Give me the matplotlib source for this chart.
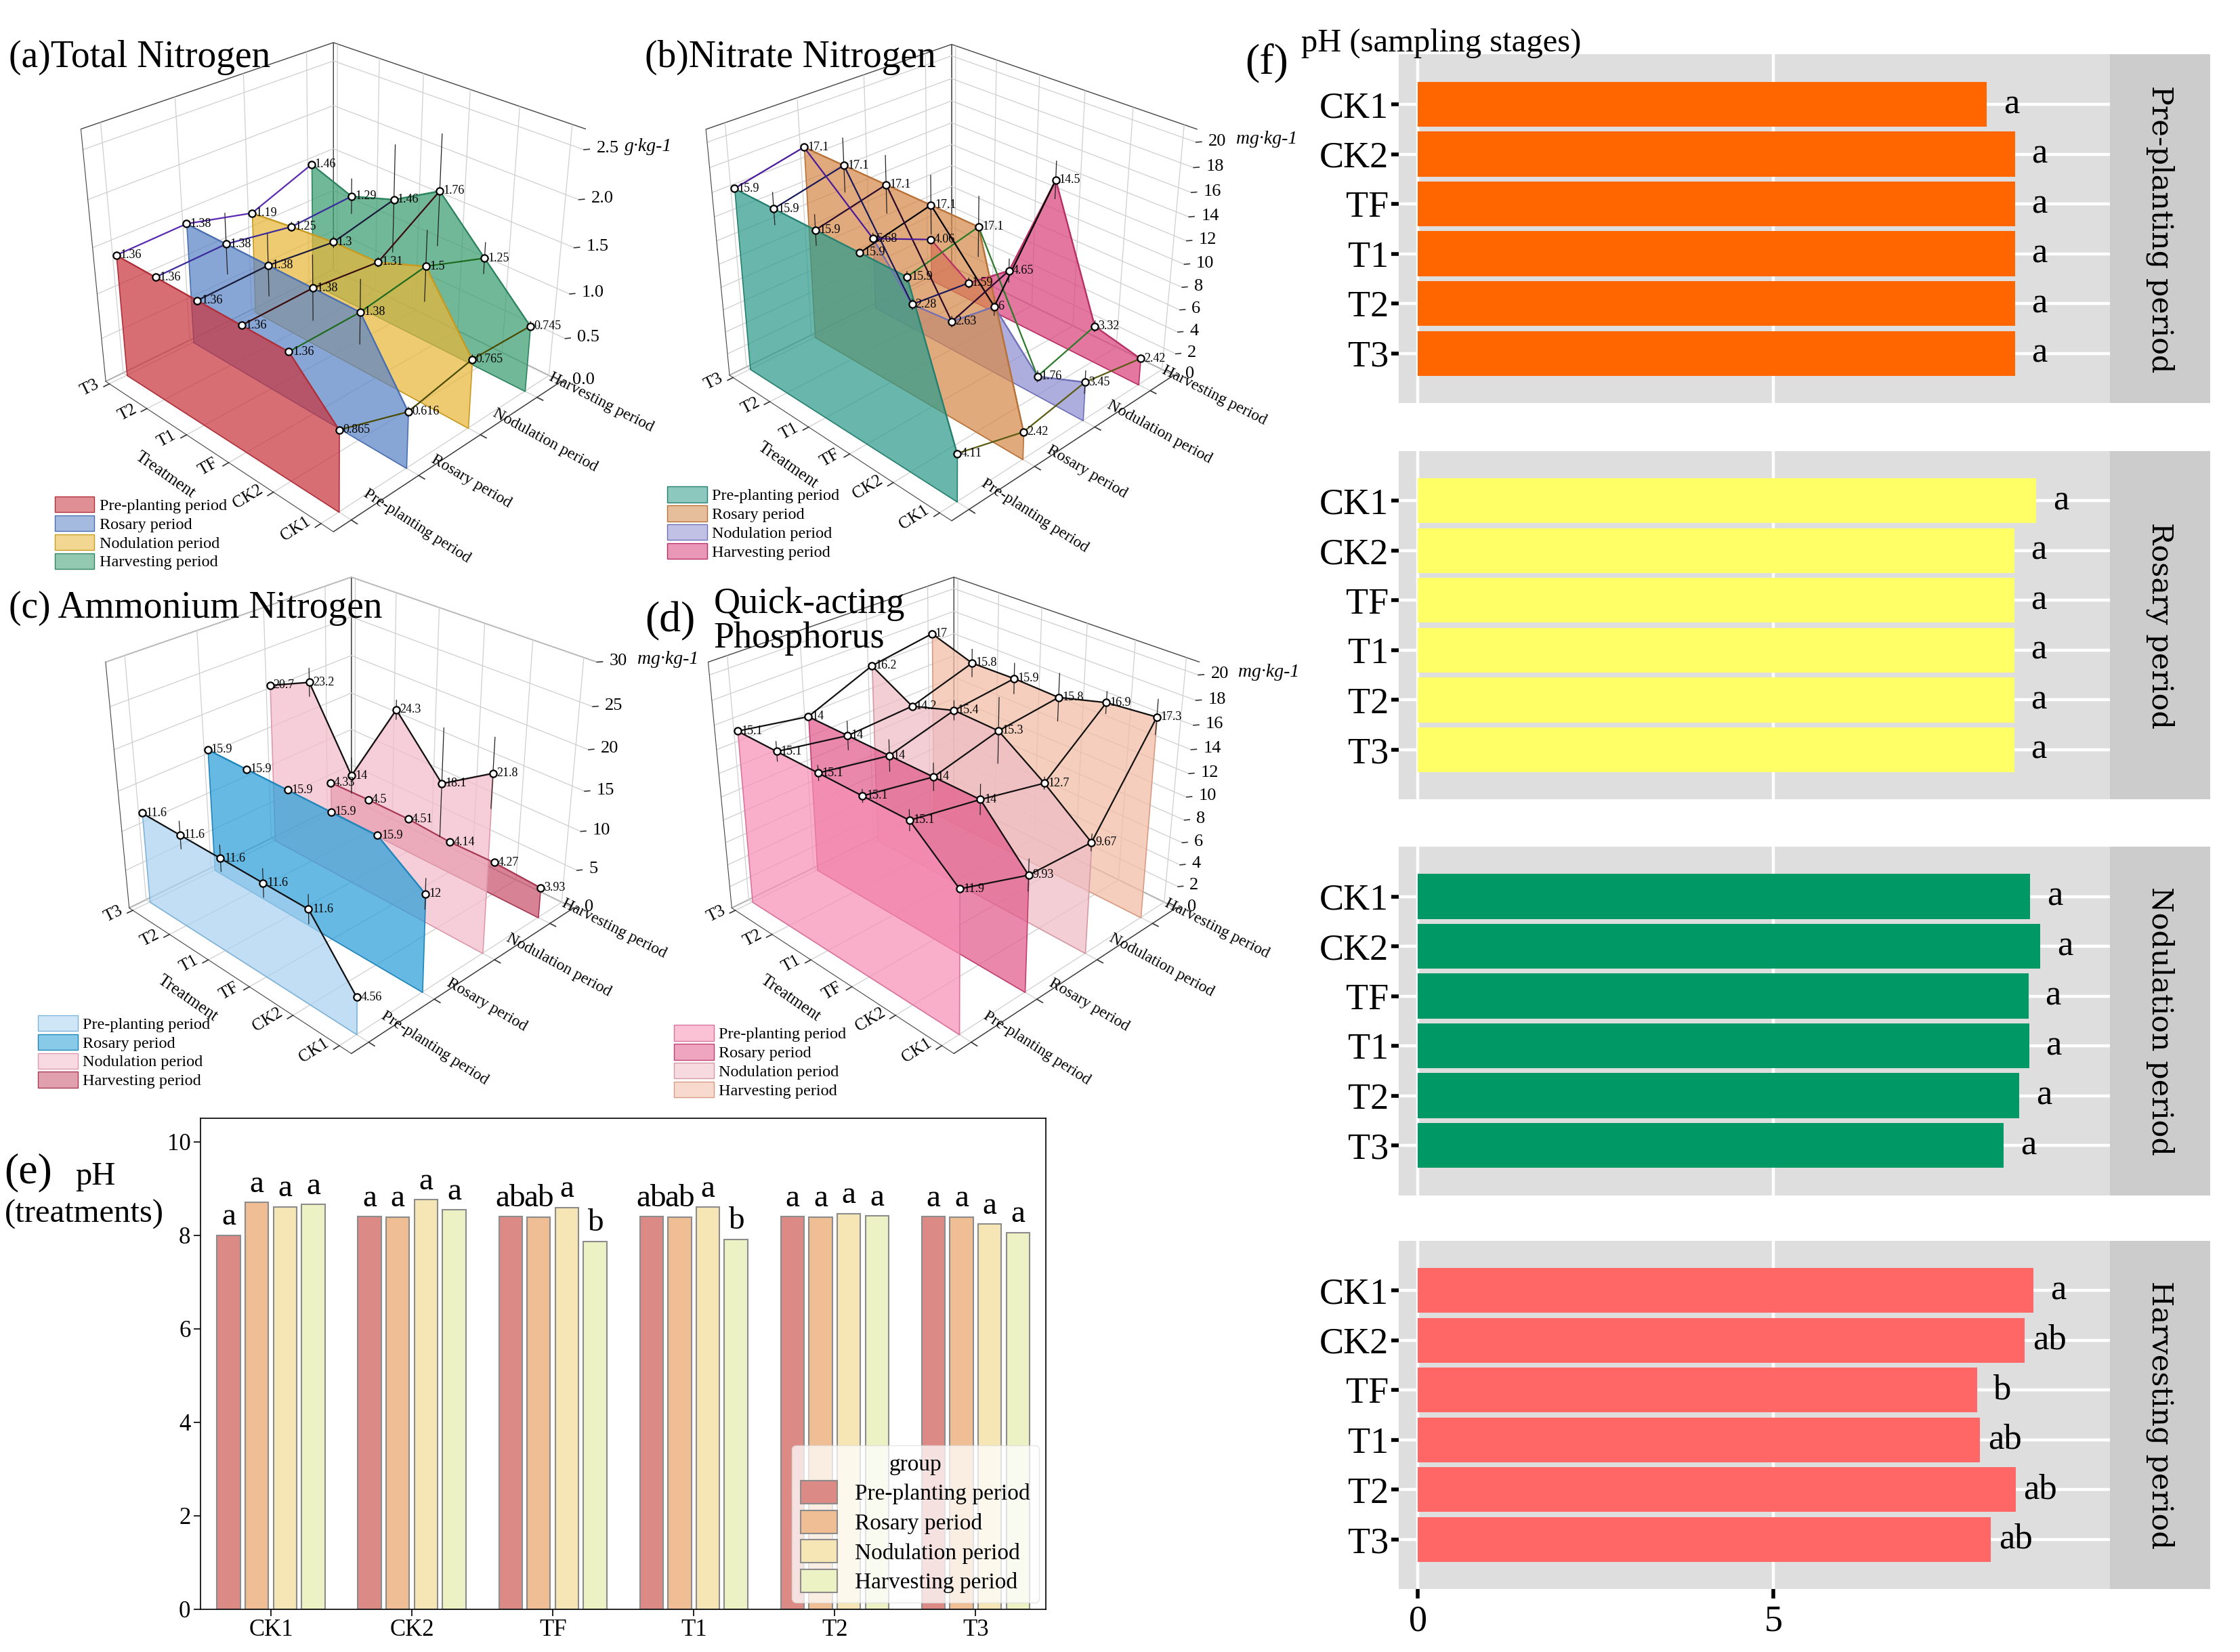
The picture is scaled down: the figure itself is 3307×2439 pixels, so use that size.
import numpy as np
import matplotlib.pyplot as plt
from matplotlib.patches import Patch
from matplotlib.colors import to_rgba
from mpl_toolkits.mplot3d.art3d import Poly3DCollection

plt.rcParams['font.family'] = ['Liberation Serif', 'DejaVu Serif']
plt.rcParams['grid.color'] = '#cfcfcf'
plt.rcParams['grid.linewidth'] = 0.9

treatments = ['CK1', 'CK2', 'TF', 'T1', 'T2', 'T3']
periods = ['Pre-planting period', 'Rosary period', 'Nodulation period', 'Harvesting period']

# 3D panels, rows = periods, columns = treatments (CK1 .. T3)
tn_values = [[0.865, 1.36, 1.36, 1.36, 1.36, 1.36],
             [0.616, 1.38, 1.38, 1.38, 1.38, 1.38],
             [0.765, 1.5, 1.31, 1.3, 1.25, 1.19],
             [0.745, 1.25, 1.76, 1.46, 1.29, 1.46]]
tn_err = [[0, 0, 0, 0, 0, 0],
          [0.05, 0.33, 0.34, 0.33, 0.33, 0],
          [0.05, 0.37, 0.05, 0.06, 0.05, 0],
          [0.05, 0.17, 0.6, 0.6, 0.2, 0]]
no3_values = [[4.11, 15.9, 15.9, 15.9, 15.9, 15.9],
              [2.42, 17.1, 17.1, 17.1, 17.1, 17.1],
              [3.45, 1.76, 6, 2.63, 2.28, 6.68],
              [2.42, 3.32, 14.5, 4.65, 1.59, 4.06]]
no3_err = [[0, 0.4, 0, 1.2, 1.3, 0],
           [0, 2.3, 2.3, 2.3, 2.2, 0],
           [1.0, 0.5, 0.8, 0.5, 0.5, 0.5],
           [0.3, 0.5, 1.6, 1.1, 0.5, 0.3]]
nh4_values = [[4.56, 11.6, 11.6, 11.6, 11.6, 11.6],
              [12, 15.9, 15.9, 15.9, 15.9, 15.9],
              [21.8, 18.1, 24.3, 14, 23.2, 20.7],
              [3.93, 4.27, 4.14, 4.51, 4.5, 4.33]]
nh4_err = [[0, 1.7, 1.7, 1.6, 1.7, 0],
           [1.8, 0, 0, 0, 0, 0],
           [4.0, 6.4, 1.1, 2.2, 1.7, 0],
           [0, 0, 0, 0, 0, 0]]
ap_values = [[11.9, 15.1, 15.1, 15.1, 15.1, 15.1],
             [9.93, 14, 14, 14, 14, 14],
             [9.67, 12.7, 15.3, 15.4, 14.2, 16.2],
             [17.3, 16.9, 15.8, 15.9, 15.8, 17]]
ap_err = [[0, 0.8, 0.5, 0.6, 0.8, 0],
          [1.3, 1.2, 1.1, 1.3, 1.2, 0],
          [0.7, 0.5, 2.7, 0.8, 0, 0],
          [1.4, 0.9, 2.0, 1.3, 1.2, 0]]

# pH by treatment (e) and by stage (f)
ph_pre = [8.0, 8.40, 8.40, 8.40, 8.40, 8.40]
ph_ros = [8.70, 8.39, 8.39, 8.39, 8.39, 8.39]
ph_nod = [8.61, 8.76, 8.59, 8.60, 8.46, 8.24]
ph_harv = [8.66, 8.54, 7.87, 7.91, 8.41, 8.06]
letters_pre = ['a', 'a', 'ab', 'ab', 'a', 'a']
letters_ros = ['a', 'a', 'ab', 'ab', 'a', 'a']
letters_nod = ['a', 'a', 'a', 'a', 'a', 'a']
letters_harv = ['a', 'a', 'b', 'b', 'a', 'a']
stage_letters_harv = ['a', 'ab', 'b', 'ab', 'ab', 'ab']

fig = plt.figure(figsize=(33.07, 24.39), dpi=100)


def wall_panel(rect, zoom, vals, errs, face, edge, top_col, cross_col, zmax, zticks, zfmt, unit):
    ax = fig.add_axes(rect, projection='3d')
    ax.set_facecolor((1, 1, 1, 0))
    ax.computed_zorder = False
    x0, x1 = -0.25, 3.45
    y0, y1 = -0.25, 5.1
    ax.set_xlim(x0, x1)
    ax.set_ylim(y0, y1)
    ax.set_zlim(0, zmax)
    ax.set_box_aspect((1, 1, 0.85), zoom=zoom)
    ax.view_init(elev=29, azim=-135)
    ax.set_proj_type('persp', focal_length=0.45)
    ax.set_xticks(range(4))
    ax.set_yticks(range(6))
    ax.set_zticks(zticks)
    ax.set_xticklabels([])
    ax.set_yticklabels([])
    ax.set_zticklabels([])
    for a in (ax.xaxis, ax.yaxis, ax.zaxis):
        a.set_pane_color((1, 1, 1, 1))
        a.pane.set_edgecolor('#444444')
        a.line.set_color('#444444')
        a._axinfo['tick']['inward_factor'] = 0
        a._axinfo['tick']['outward_factor'] = 0

    for p in reversed(range(4)):
        v = vals[p]
        verts = [(p, 0, 0)] + [(p, t, v[t]) for t in range(6)] + [(p, 5, 0)]
        poly = Poly3DCollection([verts], facecolors=[to_rgba(face[p], 0.72)],
                                edgecolors=[edge[p]], linewidths=1.2)
        poly.set_zorder(1 + (3 - p))
        ax.add_collection3d(poly)
        ax.plot([p] * 6, range(6), v, color=top_col[p], lw=1.6, zorder=6)
        for t in range(6):
            if errs[p][t] > 0:
                ax.plot([p, p], [t, t], [v[t] - errs[p][t], v[t] + errs[p][t]],
                        color='#222222', lw=0.9, zorder=6)
    if cross_col is not None:
        for t in range(6):
            ax.plot(range(4), [t] * 4, [vals[p][t] for p in range(4)],
                    color=cross_col[t], lw=1.6, zorder=6)
    for p in range(4):
        ax.scatter([p] * 6, range(6), vals[p], s=55, c='white', edgecolors='black',
                   linewidths=1.6, depthshade=False, zorder=7)
        for t in range(6):
            ax.text(p + 0.03, t - 0.04, vals[p][t], f'{vals[p][t]:g}', fontsize=13,
                    va='center', ha='left', zorder=8)

    # treatment ticks and labels along the front-left edge
    for t, name in enumerate(treatments):
        ax.plot([x0, x0 - 0.08], [t, t], [0, 0], color='#333333', lw=1.2, zorder=8)
        ax.text(x0 - 0.11, t, 0, name, zdir='x', ha='right', va='center', fontsize=18, zorder=8)
    ax.text(x0 - 0.6, 2.45, 0, 'Treatment', zdir=(0, -1, 0), ha='center', va='center',
            fontsize=18, zorder=8)
    # period ticks and labels along the front-right edge
    for p, name in enumerate(periods):
        ax.plot([p, p], [y0, y0 - 0.12], [0, 0], color='#333333', lw=1.2, zorder=8)
        ax.text(p, y0 - 0.2, 0, name, zdir=(0, -1, 0), ha='left', va='center',
                fontsize=17, zorder=8)
    # z ticks on the right vertical edge
    for z in zticks:
        ax.plot([x1, x1 + 0.05], [y0, y0 - 0.05], [z, z], color='#333333', lw=1.2, zorder=8)
        ax.text(x1 + 0.115, y0 - 0.115, z, zfmt.format(z), ha='left', va='center',
                fontsize=19, zorder=8)
    ax.text(x1 + 0.37, y0 - 0.37, zticks[-1], unit, ha='left', va='center', fontsize=20,
            style='italic', rotation=-15, zorder=8)
    return ax


def wall_legend(face, edge, anchor):
    handles = [Patch(facecolor=to_rgba(face[p], 0.55), edgecolor=edge[p], label=periods[p])
               for p in range(4)]
    fig.legend(handles=handles, loc='lower left', bbox_to_anchor=anchor, frameon=False,
               fontsize=17.5, handlelength=2.4, handleheight=1.1, labelspacing=0.12,
               handletextpad=0.3, borderpad=0, borderaxespad=0)


# (a) Total Nitrogen
face_a = ['#c8363f', '#5a84c6', '#e8b73a', '#3b9d72']
edge_a = ['#b0303a', '#4a6fb0', '#c89a20', '#2e8560']
wall_panel([0.0105, 0.6695, 0.27, 0.335], 0.98, tn_values, tn_err, face_a, edge_a, edge_a,
           ['#4a4a00', '#1e6b1e', '#3a0d0d', '#1a1a3a', '#3a2a9a', '#5a2ab0'],
           2.7, [0.0, 0.5, 1.0, 1.5, 2.0, 2.5], '{:.1f}', 'g·kg-1')
wall_legend(face_a, edge_a, (0.0245, 0.655))
fig.text(0.004, 0.965, '(a)Total Nitrogen', fontsize=40, va='center')

# (b) Nitrate Nitrogen
face_b = ['#2f9c8c', '#d5894b', '#8e8ed2', '#d9437c']
edge_b = ['#25806f', '#b87238', '#7070b8', '#b83066']
wall_panel([0.2865, 0.6715, 0.27, 0.335], 0.955, no3_values, no3_err, face_b, edge_b, edge_b,
           ['#5a5a10', '#2a7a2a', '#000000', '#2a0a2a', '#1a1a5a', '#4a1a9a'],
           21, list(range(0, 21, 2)), '{:d}', 'mg·kg-1')
wall_legend(face_b, edge_b, (0.298, 0.661))
fig.text(0.288, 0.965, '(b)Nitrate Nitrogen', fontsize=40, va='center')

# (c) Ammonium Nitrogen
face_c = ['#a9d2f0', '#2a9fd8', '#f3bccb', '#c9526c']
edge_c = ['#7fb3d8', '#1f86bb', '#dd9aae', '#a83a55']
wall_panel([0.0185, 0.349, 0.27, 0.335], 0.955, nh4_values, nh4_err, face_c, edge_c,
           ['#111111', '#1f86bb', '#111111', '#a83a55'], None,
           30, list(range(0, 31, 5)), '{:d}', 'mg·kg-1')
wall_legend(face_c, edge_c, (0.017, 0.341))
fig.text(0.004, 0.632, '(c) Ammonium Nitrogen', fontsize=40, va='center')

# (d) Quick-acting Phosphorus
face_d = ['#f890b5', '#e25b8c', '#efbcc5', '#f2bca4']
edge_d = ['#d9749a', '#c0406f', '#d49aa5', '#d69c84']
wall_panel([0.2875, 0.349, 0.27, 0.335], 0.955, ap_values, ap_err, face_d, edge_d,
           ['#111111'] * 4, ['#111111'] * 6,
           21, list(range(0, 21, 2)), '{:d}', 'mg·kg-1')
wall_legend(face_d, edge_d, (0.301, 0.335))
fig.text(0.288, 0.624, '(d)', fontsize=46, va='center')
fig.text(0.3186, 0.624, 'Quick-acting\nPhosphorus', fontsize=39, va='center', linespacing=1.0)

# (e) pH by treatment
ax_e = fig.add_axes([0.0895, 0.026, 0.3775, 0.297])
e_colors = ['#db8a86', '#efbe94', '#f6e6b6', '#edf2c5']
e_series = [ph_pre, ph_ros, ph_nod, ph_harv]
e_letters = [letters_pre, letters_ros, letters_nod, letters_harv]
xpos = np.arange(len(treatments))
offsets = [-0.3, -0.1, 0.1, 0.3]
for k in range(4):
    ax_e.bar(xpos + offsets[k], e_series[k], width=0.165, color=e_colors[k],
             edgecolor='#8c8c8c', linewidth=1.5, label=periods[k])
    for i in range(len(treatments)):
        ax_e.text(xpos[i] + offsets[k], e_series[k][i] + 0.08, e_letters[k][i],
                  ha='center', va='bottom', fontsize=34)
ax_e.set_xlim(-0.5, 5.5)
ax_e.set_ylim(0, 10.5)
ax_e.set_yticks([0, 2, 4, 6, 8, 10])
ax_e.set_xticks(xpos)
ax_e.set_xticklabels(treatments)
ax_e.tick_params(labelsize=25, length=7, width=1.2)
for s in ax_e.spines.values():
    s.set_linewidth(1.2)
leg = ax_e.legend(title='group', loc='lower right', fontsize=24, title_fontsize=24,
                  framealpha=0.75, edgecolor='#dddddd', handlelength=1.6, handleheight=1.2,
                  labelspacing=0.25, borderaxespad=0.3, fancybox=True)
fig.text(0.002, 0.290, '(e)', fontsize=46, va='center')
fig.text(0.0335, 0.288, 'pH', fontsize=35, va='center')
fig.text(0.002, 0.265, '(treatments)', fontsize=35, va='center')

# (f) pH by sampling stage
f_colors = ['#ff6600', '#ffff66', '#009966', '#ff6666']
f_series = [ph_pre, ph_ros, ph_nod, ph_harv]
f_letters = [['a'] * 6, ['a'] * 6, ['a'] * 6, stage_letters_harv]
f_bottoms = [0.756, 0.516, 0.2765, 0.038]
ypos = np.arange(1, len(treatments) + 1)
for k in range(4):
    ax = fig.add_axes([0.6245, f_bottoms[k], 0.3175, 0.211])
    ax.set_facecolor('#dedede')
    ax.set_axisbelow(True)
    ax.barh(ypos, f_series[k], height=0.9, color=f_colors[k])
    for i in range(len(treatments)):
        ax.text(f_series[k][i] + 0.35, ypos[i], f_letters[k][i], ha='center', va='center',
                fontsize=38)
    ax.set_xlim(-0.265, 9.74)
    ax.set_ylim(7.0, 0.0)
    ax.set_yticks(ypos)
    ax.set_yticklabels(treatments)
    ax.set_xticks([0, 5])
    ax.grid(True, color='white', linewidth=3.2)
    for s in ax.spines.values():
        s.set_visible(False)
    ax.tick_params(axis='y', labelsize=39, length=8, width=4, pad=3)
    if k == 3:
        ax.tick_params(axis='x', labelsize=39, length=10, width=4, pad=6)
    else:
        ax.tick_params(axis='x', length=0, labelbottom=False)
    strip = fig.add_axes([0.942, f_bottoms[k], 0.0447, 0.211])
    strip.set_facecolor('#cccccc')
    strip.set_xticks([])
    strip.set_yticks([])
    for s in strip.spines.values():
        s.set_visible(False)
    strip.text(0.5, 0.5, periods[k], rotation=-90, ha='center', va='center',
               fontsize=31, family='DejaVu Serif', transform=strip.transAxes)
fig.text(0.556, 0.962, '(f)', fontsize=46, va='center')
fig.text(0.581, 0.974, 'pH (sampling stages)', fontsize=35, va='center')

fig.savefig('out.png', dpi=100)
